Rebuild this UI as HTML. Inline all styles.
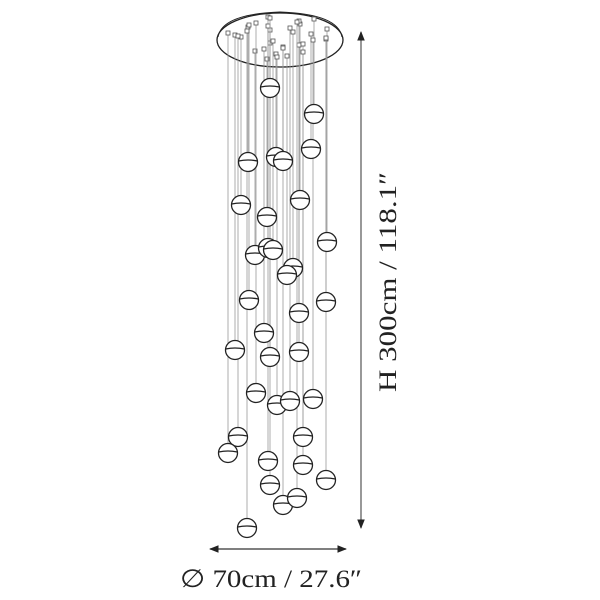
<!DOCTYPE html>
<html><head><meta charset="utf-8"><style>html,body{margin:0;padding:0;background:#fff}svg{display:block}</style></head><body>
<svg width="600" height="600" viewBox="0 0 600 600" xmlns="http://www.w3.org/2000/svg">
<defs>
<marker id="a" viewBox="0 0 10 10" refX="9" refY="5" markerWidth="8" markerHeight="8" orient="auto-start-reverse"><path d="M0,1 L10,5 L0,9 z" fill="#222"/></marker>
<g id="b"><circle r="9.5" fill="#fff" stroke="#222" stroke-width="1.3"/><path d="M-9.3,-1 Q0,-3 9.3,-1" fill="none" stroke="#222" stroke-width="1.3"/></g>
</defs>
<ellipse cx="280" cy="40" rx="63" ry="27" fill="#fff" stroke="#222" stroke-width="1.3"/>
<path d="M218,37 Q222,14 280,12 Q338,14 342,37" fill="none" stroke="#222" stroke-width="1"/>
<g id="lines" stroke="#999" stroke-width="0.8" fill="#fff"></g>
<g id="balls"></g>
<line x1="361" y1="32" x2="361" y2="528" stroke="#555" stroke-width="1.2" marker-start="url(#a)" marker-end="url(#a)"/>
<line x1="210" y1="549" x2="346" y2="549" stroke="#333" stroke-width="1.2" marker-start="url(#a)" marker-end="url(#a)"/>
<text x="0" y="0" transform="translate(396,282) rotate(-90)" text-anchor="middle" textLength="220" lengthAdjust="spacingAndGlyphs" font-family="Liberation Serif, serif" font-size="25" fill="#222">H 300cm / 118.1″</text>
<text x="271" y="587" text-anchor="middle" textLength="182" lengthAdjust="spacingAndGlyphs" font-family="Liberation Serif, serif" font-size="25" fill="#222">∅ 70cm / 27.6″</text>
</svg>
<script>
var B=[[270,88],[314,114],[311,149],[248,162],[276,157],[283,161],[241,205],[300,200],[267,217],[327,242],[255,255],[268,248],[273,250],[293,268],[287,275],[249,300],[326,302],[299,313],[264,333],[235,350],[299,352],[270,357],[256,393],[277,405],[290,401],[313,399],[238,437],[303,437],[228,453],[268,461],[303,465],[270,485],[326,480],[283,505],[297,498],[247,528]];
var tops=[44,20,35,28,55,48,38,25,60,30,52,18,42,33,57,26,40,22,50,36,46,31,24,58,29,41,37,45,34,27,53,19,39,49,23,32];
var L=document.getElementById('lines'),G=document.getElementById('balls'),ns='http://www.w3.org/2000/svg';
B.forEach(function(p,i){var y=tops[i];
var l=document.createElementNS(ns,'line');l.setAttribute('x1',p[0]);l.setAttribute('x2',p[0]);l.setAttribute('y1',y);l.setAttribute('y2',p[1]-9);L.appendChild(l);
var r=document.createElementNS(ns,'rect');r.setAttribute('x',p[0]-2);r.setAttribute('y',y-3);r.setAttribute('width',4);r.setAttribute('height',4);r.setAttribute('stroke','#555');L.appendChild(r);
var u=document.createElementNS(ns,'use');u.setAttribute('href','#b');u.setAttribute('transform','translate('+p[0]+','+p[1]+')');G.appendChild(u);});
</script>
</body></html>
